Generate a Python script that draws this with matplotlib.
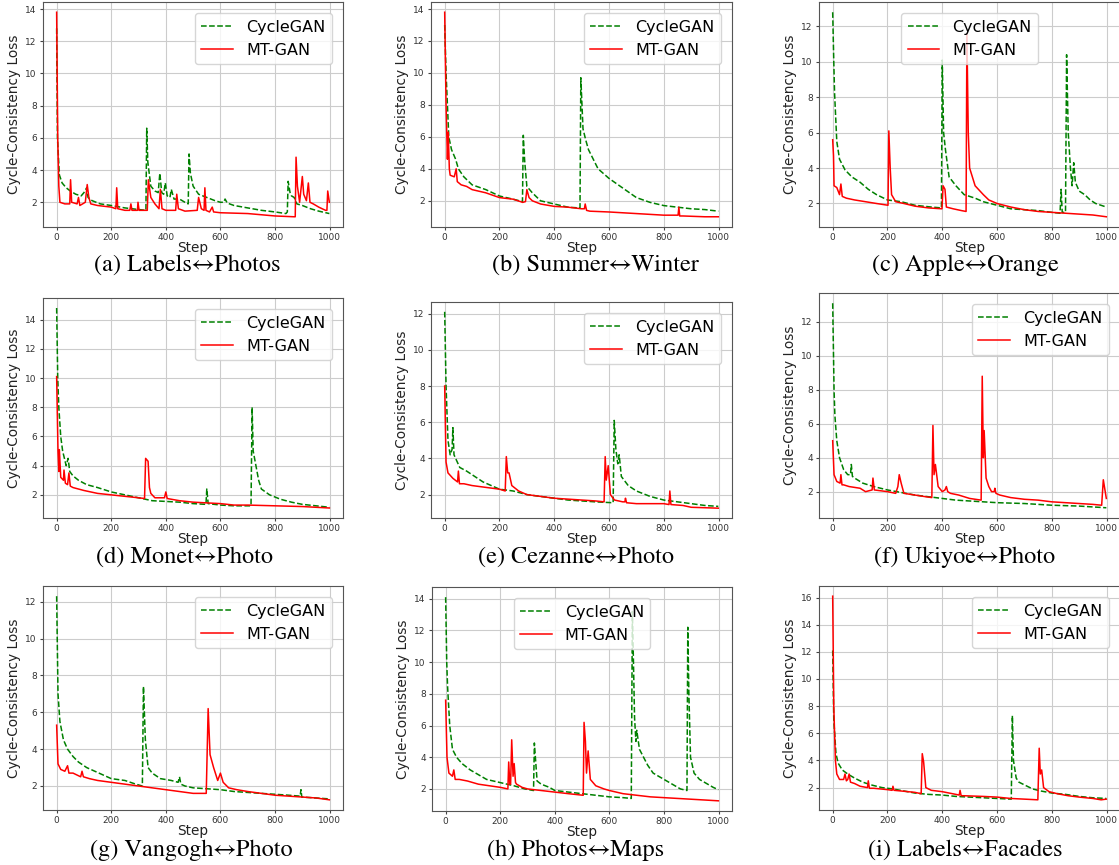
import matplotlib.pyplot as plt

# (step, loss) points
a_cg = [(0,12.8),(3,6.0),(10,3.7),(20,3.2),(35,2.9),(50,2.7),(70,2.5),(90,2.4),(100,2.6),(110,2.9),(115,2.3),(130,2.1),(160,1.9),(200,1.8),(250,1.65),(300,1.55),(327,1.5),(330,6.6),(334,4.5),(345,3.0),(360,2.7),(372,2.6),(378,3.8),(385,2.6),(392,2.5),(398,3.2),(405,2.4),(415,2.3),(420,2.8),(430,2.2),(450,2.2),(470,2.0),(482,1.9),(485,5.0),(490,3.8),(500,3.0),(520,2.5),(550,2.3),(580,2.1),(600,2.0),(612,2.0),(617,2.2),(625,1.95),(650,1.8),(700,1.65),(750,1.5),(800,1.4),(840,1.3),(845,1.4),(848,3.3),(855,2.6),(860,2.4),(870,2.3),(880,1.9),(900,1.8),(930,1.6),(960,1.45),(999,1.3)]
a_mt = [(0,13.8),(4,6.0),(8,3.0),(12,2.0),(30,1.9),(48,1.9),(51,3.4),(55,2.0),(75,1.9),(80,2.3),(85,1.8),(105,2.0),(112,3.1),(118,2.3),(125,1.9),(150,1.8),(200,1.7),(217,1.6),(220,2.9),(224,1.6),(250,1.5),(268,1.5),(272,1.9),(276,1.5),(296,1.5),(298,2.0),(302,1.5),(320,1.5),(332,1.5),(336,3.4),(345,2.3),(360,1.9),(375,1.6),(380,2.8),(386,1.6),(400,1.5),(436,1.5),(440,2.5),(446,1.6),(470,1.45),(515,1.5),(520,2.3),(530,1.6),(540,1.5),(543,2.9),(547,1.5),(560,1.4),(570,1.7),(575,1.4),(600,1.35),(700,1.3),(800,1.15),(870,1.1),(874,1.1),(877,4.8),(882,3.0),(890,2.0),(900,3.6),(905,2.5),(915,2.1),(922,3.2),(928,2.0),(940,1.9),(960,1.7),(985,1.5),(990,1.5),(993,2.7),(999,2.0)]

b_cg = [(0,13.0),(5,10.0),(10,8.0),(15,6.0),(25,5.2),(40,4.6),(50,4.0),(70,3.5),(100,3.0),(150,2.7),(200,2.3),(250,2.1),(284,1.95),(287,6.1),(292,4.5),(300,2.9),(320,2.5),(350,2.0),(400,1.8),(450,1.6),(494,1.55),(497,9.7),(505,6.5),(515,5.8),(525,5.2),(560,4.0),(600,3.4),(650,2.8),(700,2.2),(750,1.9),(800,1.7),(850,1.6),(900,1.5),(950,1.45),(999,1.35)]
b_mt = [(0,13.8),(5,8.0),(10,4.6),(13,6.3),(17,4.0),(20,3.6),(35,3.5),(42,4.0),(46,3.2),(60,3.0),(80,2.9),(100,2.7),(150,2.5),(200,2.2),(250,2.1),(285,1.9),(295,1.95),(300,2.7),(308,2.2),(320,2.0),(350,1.8),(400,1.65),(450,1.6),(500,1.5),(510,1.5),(513,1.8),(518,1.4),(530,1.35),(600,1.3),(700,1.2),(800,1.1),(852,1.1),(855,1.6),(858,1.05),(870,1.05),(950,1.0),(999,1.0)]

c_cg = [(0,12.8),(4,10.0),(7,8.2),(15,5.5),(25,4.5),(45,3.9),(70,3.5),(100,3.2),(130,2.8),(160,2.5),(200,2.2),(250,2.1),(300,1.9),(360,1.8),(397,1.75),(400,10.1),(405,6.0),(412,5.0),(425,3.5),(450,3.0),(480,2.5),(520,2.3),(550,2.1),(600,1.9),(650,1.7),(700,1.65),(750,1.6),(800,1.5),(830,1.45),(834,2.8),(838,1.5),(850,1.5),(854,10.4),(860,6.0),(868,4.0),(874,3.0),(880,4.3),(886,3.2),(900,2.7),(920,2.5),(940,2.2),(960,2.0),(999,1.8)]
c_mt = [(0,5.6),(3,4.7),(5,3.0),(15,2.9),(25,2.5),(30,3.1),(35,2.4),(50,2.3),(80,2.2),(120,2.1),(160,2.0),(202,1.9),(205,6.1),(210,4.0),(215,2.5),(230,2.1),(260,2.0),(300,1.85),(350,1.75),(399,1.7),(403,3.0),(410,2.8),(415,1.8),(440,1.7),(470,1.6),(487,1.55),(490,11.6),(495,6.0),(500,4.0),(520,3.0),(550,2.5),(570,2.2),(600,2.0),(650,1.8),(700,1.65),(750,1.55),(800,1.5),(850,1.45),(900,1.4),(950,1.35),(999,1.25)]

d_cg = [(0,14.8),(4,10.0),(8,8.0),(15,6.0),(22,5.0),(35,4.0),(42,4.5),(48,3.6),(60,3.3),(80,3.0),(110,2.7),(150,2.5),(200,2.2),(250,2.0),(300,1.8),(350,1.6),(400,1.55),(450,1.5),(500,1.4),(547,1.35),(550,2.4),(555,1.4),(600,1.3),(650,1.25),(712,1.25),(716,8.0),(720,5.0),(725,4.5),(740,3.0),(750,2.4),(780,2.0),(820,1.7),(860,1.5),(900,1.35),(950,1.25),(999,1.15)]
d_mt = [(0,10.1),(5,5.0),(8,3.6),(10,5.1),(15,3.2),(25,3.0),(27,3.7),(32,2.8),(40,2.7),(45,3.5),(50,2.6),(60,2.5),(80,2.4),(100,2.3),(150,2.1),(200,2.0),(250,1.9),(300,1.8),(322,1.75),(326,4.5),(335,4.3),(340,2.5),(345,2.1),(360,1.8),(395,1.8),(400,2.2),(405,1.75),(420,1.7),(450,1.6),(500,1.5),(550,1.45),(600,1.4),(650,1.3),(700,1.3),(800,1.25),(900,1.2),(999,1.1)]

e_cg = [(0,12.1),(5,8.0),(12,5.0),(20,4.2),(27,4.5),(30,5.7),(34,4.2),(40,4.0),(55,3.5),(80,3.3),(110,3.0),(140,2.7),(170,2.5),(200,2.3),(250,2.2),(300,2.0),(350,1.9),(400,1.8),(450,1.7),(500,1.65),(550,1.6),(615,1.55),(619,6.1),(625,4.5),(632,3.7),(637,4.2),(645,3.0),(670,2.5),(700,2.2),(750,1.9),(800,1.7),(850,1.6),(900,1.5),(950,1.4),(999,1.35)]
e_mt = [(0,8.0),(5,3.8),(12,3.2),(30,2.9),(47,2.7),(50,3.3),(54,2.6),(70,2.6),(100,2.5),(150,2.4),(200,2.3),(221,2.2),(225,4.1),(230,3.2),(235,3.2),(245,2.5),(270,2.2),(300,2.0),(350,1.9),(400,1.8),(450,1.75),(500,1.7),(550,1.65),(582,1.6),(586,4.1),(590,2.8),(597,3.6),(605,2.0),(620,1.7),(650,1.6),(658,1.6),(660,1.8),(664,1.55),(700,1.5),(800,1.5),(819,1.45),(822,2.2),(826,1.45),(870,1.4),(900,1.3),(999,1.25)]

f_cg = [(0,13.1),(5,8.0),(8,6.5),(15,5.0),(25,4.0),(40,3.3),(55,3.0),(65,3.0),(68,3.6),(72,2.9),(80,2.8),(110,2.5),(150,2.3),(200,2.1),(250,1.95),(300,1.8),(350,1.7),(400,1.6),(450,1.5),(500,1.45),(550,1.4),(600,1.35),(700,1.3),(800,1.2),(900,1.15),(999,1.05)]
f_mt = [(0,5.0),(5,3.0),(15,2.6),(27,2.5),(30,3.0),(34,2.4),(40,2.4),(60,2.3),(100,2.2),(120,2.0),(144,2.1),(147,2.8),(152,2.1),(200,2.0),(230,1.9),(238,2.3),(243,3.0),(250,2.5),(260,1.9),(300,1.8),(340,1.7),(362,1.65),(366,5.9),(370,3.0),(375,3.6),(385,2.3),(400,2.0),(410,2.1),(415,2.3),(420,2.0),(430,1.9),(460,1.8),(500,1.6),(542,1.5),(546,8.8),(550,4.0),(553,5.6),(560,2.8),(570,2.3),(580,2.0),(590,2.0),(592,2.2),(596,1.9),(610,1.8),(650,1.65),(700,1.55),(750,1.5),(800,1.4),(850,1.35),(900,1.3),(950,1.25),(982,1.2),(988,2.7),(995,2.0),(999,1.6)]

g_cg = [(0,12.3),(5,7.0),(12,5.5),(25,4.5),(40,4.0),(60,3.6),(80,3.3),(110,3.0),(140,2.8),(170,2.6),(200,2.4),(250,2.3),(290,2.1),(314,2.0),(318,7.4),(325,4.5),(335,3.0),(350,2.7),(380,2.4),(420,2.3),(445,2.2),(450,2.5),(455,2.1),(470,2.0),(500,1.9),(550,1.85),(600,1.8),(650,1.7),(700,1.65),(750,1.6),(800,1.55),(850,1.5),(892,1.45),(895,1.8),(898,1.4),(950,1.35),(999,1.3)]
g_mt = [(0,5.3),(5,3.2),(15,2.9),(30,2.8),(40,3.1),(45,2.7),(60,2.7),(88,2.5),(93,2.8),(98,2.5),(120,2.4),(150,2.3),(200,2.2),(250,2.1),(300,2.0),(350,1.9),(400,1.8),(450,1.7),(500,1.6),(548,1.6),(555,6.2),(562,3.7),(575,3.0),(590,2.3),(600,2.7),(610,2.2),(630,1.9),(660,1.8),(700,1.7),(750,1.6),(800,1.5),(850,1.45),(900,1.4),(950,1.35),(999,1.25)]

h_cg = [(0,14.1),(4,10.0),(7,8.5),(15,6.0),(25,4.5),(40,4.0),(60,3.6),(90,3.2),(120,2.9),(150,2.6),(200,2.4),(250,2.2),(290,2.0),(322,1.9),(325,4.9),(335,2.5),(350,2.3),(380,2.1),(400,1.9),(450,1.8),(500,1.7),(550,1.6),(600,1.5),(650,1.45),(680,1.4),(684,13.2),(688,10.0),(692,6.5),(697,5.0),(700,5.7),(710,4.5),(740,3.5),(760,3.0),(800,2.6),(830,2.3),(860,2.0),(884,1.9),(887,12.2),(891,8.0),(897,4.0),(910,3.0),(930,2.6),(960,2.3),(980,2.1),(999,1.95)]
h_mt = [(0,7.6),(5,4.0),(12,3.0),(25,2.8),(30,3.2),(35,2.6),(50,2.6),(80,2.5),(120,2.3),(160,2.2),(200,2.1),(228,2.0),(231,3.7),(235,2.3),(238,2.3),(242,5.1),(247,2.8),(251,3.6),(256,2.4),(260,2.3),(280,2.1),(300,2.0),(350,1.9),(400,1.8),(450,1.7),(504,1.6),(507,6.2),(512,5.0),(516,3.0),(522,4.4),(530,2.6),(550,2.2),(580,2.0),(600,1.9),(650,1.7),(700,1.6),(750,1.5),(800,1.45),(850,1.4),(900,1.35),(950,1.3),(999,1.25)]

i_cg = [(0,12.1),(4,7.0),(12,4.5),(20,3.8),(35,3.3),(55,3.0),(80,2.7),(110,2.4),(140,2.2),(180,2.0),(220,1.9),(260,1.75),(300,1.6),(350,1.5),(400,1.45),(450,1.35),(500,1.3),(550,1.25),(600,1.2),(652,1.15),(656,7.3),(660,4.0),(670,2.7),(680,2.4),(700,2.2),(730,1.9),(760,1.75),(800,1.6),(850,1.5),(900,1.35),(950,1.25),(999,1.2)]
i_mt = [(0,16.1),(4,8.0),(10,4.0),(15,3.0),(25,2.6),(40,2.6),(45,3.0),(50,2.5),(55,2.6),(60,3.0),(65,2.4),(80,2.3),(100,2.1),(127,2.0),(130,2.5),(134,1.95),(150,1.95),(200,1.85),(217,1.8),(220,2.1),(224,1.8),(250,1.75),(300,1.65),(323,1.55),(327,4.5),(332,3.9),(340,2.0),(360,1.8),(400,1.7),(450,1.5),(462,1.45),(465,1.8),(469,1.4),(480,1.4),(550,1.35),(600,1.3),(650,1.2),(700,1.15),(749,1.1),(754,4.9),(758,3.0),(763,3.3),(770,2.0),(790,1.7),(820,1.55),(860,1.4),(900,1.3),(950,1.2),(980,1.1),(999,1.15)]

captions = ["(a) Labels\u2194Photos", "(b) Summer\u2194Winter", "(c) Apple\u2194Orange",
            "(d) Monet\u2194Photo", "(e) Cezanne\u2194Photo", "(f) Ukiyoe\u2194Photo",
            "(g) Vangogh\u2194Photo", "(h) Photos\u2194Maps", "(i) Labels\u2194Facades"]
cyclegan = [a_cg, b_cg, c_cg, d_cg, e_cg, f_cg, g_cg, h_cg, i_cg]
mtgan = [a_mt, b_mt, c_mt, d_mt, e_mt, f_mt, g_mt, h_mt, i_mt]
legend_loc = ['upper right', 'upper right', 'upper center',
              'upper right', 'upper right', 'upper right',
              'upper right', 'upper center', 'upper right']

W, H = 1119, 865
# axes boxes in pixels: left, top, right, bottom
boxes = [(43, 2, 343, 227), (431, 2, 732, 227), (819, 2, 1120, 227),
         (43, 298, 343, 518), (431, 302, 732, 518), (819, 293, 1120, 518),
         (43, 586, 343, 810), (432, 587, 732, 811), (819, 586, 1120, 810)]
cap_pos = [(187, 265), (595, 265), (965, 265),
           (185, 557), (576, 557), (965, 557),
           (191, 850), (576, 850), (965, 850)]

fig = plt.figure(figsize=(W / 100, H / 100), dpi=100)

for k in range(9):
    l, t, r, b = boxes[k]
    ax = fig.add_axes([l / W, 1 - b / H, (r - l) / W, (b - t) / H])
    xs, ys = zip(*cyclegan[k])
    ax.plot(xs, ys, '--', color='green', lw=1.1, label='CycleGAN')
    xs, ys = zip(*mtgan[k])
    ax.plot(xs, ys, '-', color='red', lw=1.1, label='MT-GAN')
    ax.set_xticks([0, 200, 400, 600, 800, 1000])
    ax.grid(True, color='#cccccc', lw=0.8)
    ax.tick_params(labelsize=6.5, length=2.5, pad=2, colors='#444444', labelcolor='#333333')
    for s in ax.spines.values():
        s.set_color('#555555')
        s.set_linewidth(0.8)
    ax.set_xlabel('Step', fontsize=9.8, labelpad=-1, color='#222222')
    ax.set_ylabel('Cycle-Consistency Loss', fontsize=9.8, labelpad=3, color='#222222')
    ax.legend(loc=legend_loc[k], fontsize=11.5, borderaxespad=0.7)
    cx, cy = cap_pos[k]
    fig.text(cx / W, 1 - cy / H, captions[k], ha='center', va='center', fontsize=17.5,
             family=['STIXGeneral', 'DejaVu Serif'])

plt.savefig('out.png', dpi=100)
